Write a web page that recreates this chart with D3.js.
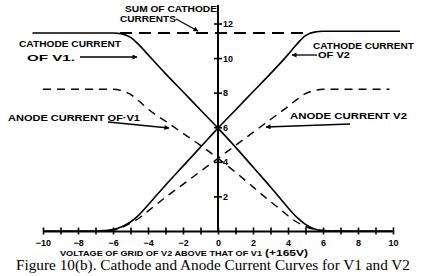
<!DOCTYPE html>
<html><head><meta charset="utf-8">
<script src="https://cdn.jsdelivr.net/npm/d3@7"></script>
<style>
html,body{margin:0;padding:0;background:#fff;}
svg{display:block;}
text{font-family:"Liberation Sans","DejaVu Sans",sans-serif;font-weight:bold;fill:#000;}
.cap{font-family:"Liberation Serif","DejaVu Serif",serif;font-weight:normal;}
</style>
</head><body>
<script>
// ---- data ----
const xTickValues = d3.range(-10, 11, 1);
const xLabelValues = [-10,-8,-6,-4,-2,0,2,4,6,8,10];
const xTickLabels = ["\u221210","\u22128","\u22126","\u22124","\u22122","0","2","4","6","8","10"];
const yTickValues = [2,4,6,8,10,12];
const yTickLabels = ["2","4","6","8","10","12"];

const cathodeV1X = [-10.6,-8,-6,-5.5,-5,-4.5,-4,-3,-2,-1,0,1,2,3,3.5,4,4.5,5,5.5,6,7,10];
const cathodeV1Y = [11.45,11.45,11.45,11.4,11.2,10.75,10.2,9.1,8.05,7.0,5.95,4.85,3.7,2.55,1.95,1.35,0.8,0.38,0.12,0.03,0,0];

const cathodeV2X = [-10,-7,-6.5,-6,-5.5,-5,-4.5,-4,-3.5,-3,-2,-1,0,1,2,3,4,4.5,5,5.5,6,10.4];
const cathodeV2Y = [0,0,0.02,0.08,0.25,0.52,0.95,1.5,2.08,2.65,3.75,4.85,5.95,7.0,8.05,9.1,10.2,10.8,11.3,11.5,11.55,11.55];

const anodeV1X = [-10,-6,-5.5,-5,-4.5,-4,-3,-2,-1,0,1,2,3,3.5,4,4.5,5,5.5,6,7];
const anodeV1Y = [8.2,8.2,8.12,7.9,7.5,7.05,6.35,5.65,4.95,4.2,3.4,2.55,1.7,1.3,0.88,0.52,0.26,0.1,0.03,0];

const anodeV2X = [-7,-6,-5.5,-5,-4.5,-4,-3,-2,-1,0,1,2,3,4,4.5,5,5.5,6,9.8];
const anodeV2Y = [0,0.05,0.2,0.45,0.75,1.15,1.95,2.7,3.45,4.2,4.95,5.7,6.45,7.2,7.6,7.95,8.12,8.2,8.2];

const sumX = [-5.6, 5.3];
const sumY = [11.45, 11.45];

const W = 421, H = 276;
const svg = d3.select("body").append("svg").attr("width", W).attr("height", H);

const x = d3.scaleLinear().domain([-10,10]).range([43,393]);
const y = d3.scaleLinear().domain([0,12]).range([231,23.5]);

const line = d3.line().x(d=>x(d[0])).y(d=>y(d[1])).curve(d3.curveMonotoneX);
const zip = (a,b)=>a.map((v,i)=>[v,b[i]]);

// arrow marker
const defs = svg.append("defs");
defs.append("marker").attr("id","ah").attr("viewBox","0 0 10 10").attr("refX",9).attr("refY",5)
  .attr("markerWidth",7).attr("markerHeight",5).attr("orient","auto").attr("markerUnits","userSpaceOnUse")
  .append("path").attr("d","M0,0 L10,5 L0,10 Z").attr("fill","#000");

// axes
const xAxis = d3.axisBottom(x).tickValues(xTickValues).tickSize(0).tickFormat("");
const gx = svg.append("g").attr("transform",`translate(0,${y(0)})`).call(xAxis);
gx.select(".domain").attr("stroke","#000").attr("stroke-width",2);
gx.selectAll(".tick").append("line").attr("y1",-3.5).attr("y2",3.5).attr("stroke","#000").attr("stroke-width",1.6);
gx.selectAll(".tick").filter(d=>xLabelValues.includes(d)).append("text")
  .attr("y",15).attr("text-anchor","middle").style("font-size","9px")
  .text(d=>xTickLabels[xLabelValues.indexOf(d)]);

const yAxis = d3.axisRight(y).tickValues(yTickValues).tickSize(0).tickFormat("");
const gy = svg.append("g").attr("transform",`translate(${x(0)},0)`).call(yAxis);
gy.select(".domain").remove();
gy.append("line").attr("y1",y(0)).attr("y2",5).attr("stroke","#000").attr("stroke-width",2);
gy.selectAll(".tick").append("line").attr("x1",-4).attr("x2",4).attr("stroke","#000").attr("stroke-width",1.6);
gy.selectAll(".tick").append("text").attr("x",5).attr("dy","0.35em").style("font-size","9px")
  .text(d=>yTickLabels[yTickValues.indexOf(d)]);

// curves
const drawLine = (xs, ys, dash, w) => svg.append("path").datum(zip(xs,ys)).attr("d",line)
  .attr("fill","none").attr("stroke","#000").attr("stroke-width",w).attr("stroke-dasharray",dash);

drawLine(cathodeV1X, cathodeV1Y, null, 1.6);
drawLine(cathodeV2X, cathodeV2Y, null, 1.6);
drawLine(anodeV1X, anodeV1Y, "8,6", 1.4);
drawLine(anodeV2X, anodeV2Y, "8,6", 1.4);
drawLine(sumX, sumY, "12,7", 1.8);

// annotations
const label = (t, x0, yb, w, fs) => svg.append("text").attr("x",x0).attr("y",yb)
  .attr("textLength",w).attr("lengthAdjust","spacingAndGlyphs").style("font-size",fs+"px").text(t);
const arrow = (x1,y1,x2,y2) => svg.append("line").attr("x1",x1).attr("y1",y1).attr("x2",x2).attr("y2",y2)
  .attr("stroke","#000").attr("stroke-width",1.3).attr("marker-end","url(#ah)");

label("SUM OF CATHODE", 125, 12, 92, 8.5);
label("CURRENTS", 120, 22, 56, 8.5);
arrow(176, 19, 198, 31);

label("CATHODE CURRENT", 19, 47, 102, 8.5);
label("OF V1.", 27, 61, 48, 9);
arrow(80, 57, 137, 57);

label("ANODE CURRENT OF\u00B7V1", 8, 121, 132, 8.5);
arrow(108, 122, 169, 128);

label("CATHODE CURRENT", 313, 49, 101, 8.5);
label("OF V2", 318, 58, 32, 8.5);
arrow(317, 55, 292, 55);

label("ANODE CURRENT V2", 290, 119, 117, 9);
arrow(350, 124, 266, 127);

label("VOLTAGE OF GRID OF V2 ABOVE THAT OF V1", 60, 256, 202, 7.5);
label("(+165V)", 265, 256, 43, 8.5);

svg.append("text").attr("class","cap").attr("x",16).attr("y",270)
  .attr("textLength",394).attr("lengthAdjust","spacingAndGlyphs")
  .style("font-size","15px").text("Figure 10(b). Cathode and Anode Current Curves for V1 and V2");
</script>
</body></html>
